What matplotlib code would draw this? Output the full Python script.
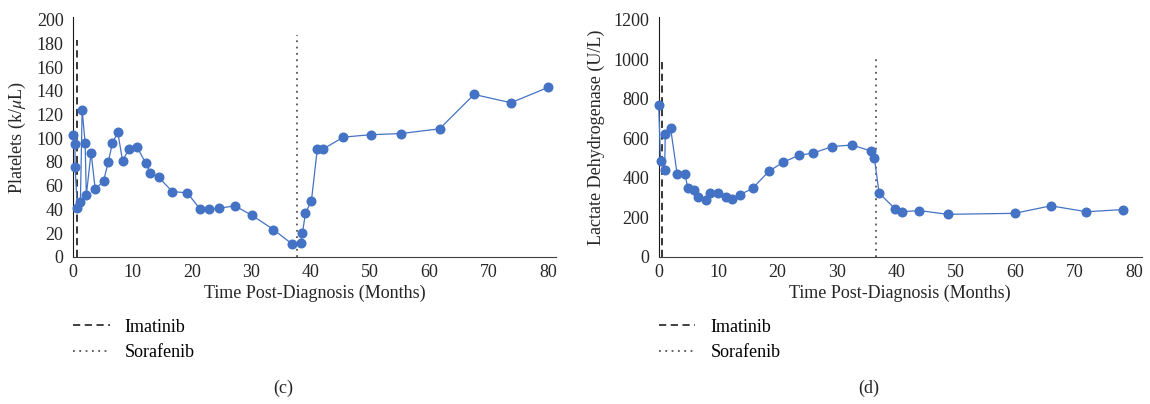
import matplotlib
matplotlib.use("Agg")
import matplotlib.pyplot as plt
from matplotlib.lines import Line2D

plt.rcParams["font.family"] = ["Liberation Serif", "DejaVu Serif"]
plt.rcParams["mathtext.fontset"] = "stix"

# (c) platelets
plt_months = [0, 0.3, 0.3, 0.7, 1.2, 1.5, 2.0, 2.2, 3.0, 3.7, 5.1, 5.9, 6.6, 7.5, 8.3,
              9.4, 10.7, 12.2, 13.0, 14.4, 16.7, 19.2, 21.4, 22.8, 24.6, 27.2, 30.1,
              33.7, 36.8, 38.3, 38.6, 39.1, 40.1, 41.1, 42.1, 45.5, 50.1, 55.2, 61.7,
              67.5, 73.7, 80.0]
plt_values = [103, 95, 76, 41, 46, 124, 96, 52, 88, 57, 64, 80, 96, 105, 81,
              91, 93, 79, 71, 67, 55, 54, 40, 40, 41, 43, 35,
              23, 11, 12, 20, 37, 47, 91, 91, 101, 103, 104, 108,
              137, 130, 143]

# (d) lactate dehydrogenase
ldh_months = [0, 0.3, 1.0, 1.1, 2.0, 3.1, 4.4, 4.9, 6.0, 6.6, 7.9, 8.7, 9.9, 11.3,
              12.4, 13.7, 15.8, 18.5, 20.9, 23.6, 26.0, 29.2, 32.5, 35.7, 36.3, 37.1,
              39.8, 40.9, 43.8, 48.7, 59.9, 66.0, 72.0, 78.1]
ldh_values = [770, 485, 438, 624, 651, 419, 420, 348, 336, 303, 285, 322, 322, 305,
              292, 315, 346, 432, 478, 514, 525, 558, 566, 536, 499, 322,
              243, 228, 234, 215, 220, 258, 228, 239]

# treatment start markers: (month, top of line)
plt_imatinib = (0.55, 183)
plt_sorafenib = (37.6, 187)
ldh_imatinib = (0.5, 1000)
ldh_sorafenib = (36.5, 1000)

BLUE = "#4472C4"
FS = 13

fig = plt.figure(figsize=(11.5, 4.04), dpi=100)
ax1 = fig.add_axes([0.0637, 0.3644, 0.4198, 0.5925])
ax2 = fig.add_axes([0.5728, 0.3644, 0.4200, 0.5925])


def draw_panel(ax, months, values, imatinib, sorafenib, ymax, ystep, ylabel):
    ax.plot(months, values, color=BLUE, lw=0.9, marker="o", ms=6.2,
            mfc=BLUE, mec=BLUE, clip_on=False, zorder=3)
    ax.plot([imatinib[0]] * 2, [0, imatinib[1]], color="#262626", lw=1.3,
            ls=(0, (4, 2.5)), zorder=2)
    ax.plot([sorafenib[0]] * 2, [0, sorafenib[1]], color="#555555", lw=1.3,
            ls=(0, (1, 2.5)), zorder=2)
    ax.set_xlim(0, 81.3)
    ax.set_ylim(0, ymax * 1.01)
    ax.set_xticks(range(0, 81, 10))
    ax.set_yticks(range(0, ymax + 1, ystep))
    ax.tick_params(length=0, labelsize=FS, colors="#262626")
    ax.tick_params(axis="y", pad=7)
    ax.tick_params(axis="x", pad=5)
    ax.spines[["top", "right"]].set_visible(False)
    ax.spines["left"].set_color("#1a1a1a")
    ax.spines["bottom"].set_color("#404040")
    ax.set_xlabel("Time Post-Diagnosis (Months)", fontsize=FS, color="#262626", labelpad=3)
    ax.set_ylabel(ylabel, fontsize=FS, color="#262626", labelpad=6)

    handles = [
        Line2D([], [], color="#333333", lw=1.3, ls=(0, (4, 2.5))),
        Line2D([], [], color="#555555", lw=1.3, ls=(0, (1, 2.5))),
    ]
    pos = ax.get_position()
    ax.legend(handles, ["Imatinib", "Sorafenib"], loc="upper left",
              bbox_to_anchor=(pos.x0 - 0.0077, 0.2334), bbox_transform=fig.transFigure,
              frameon=False, fontsize=FS, handlelength=2.0, handletextpad=0.85,
              labelspacing=0.45, borderpad=0)


draw_panel(ax1, plt_months, plt_values, plt_imatinib, plt_sorafenib, 200, 20,
           r"Platelets (k/$\mu$L)")
draw_panel(ax2, ldh_months, ldh_values, ldh_imatinib, ldh_sorafenib, 1200, 200,
           "Lactate Dehydrogenase (U/L)")

fig.text(283 / 1150, 1 - 388 / 404, "(c)", ha="center", va="center", fontsize=FS, color="#262626")
fig.text(869 / 1150, 1 - 388 / 404, "(d)", ha="center", va="center", fontsize=FS, color="#262626")

fig.savefig("out.png", dpi=100)
